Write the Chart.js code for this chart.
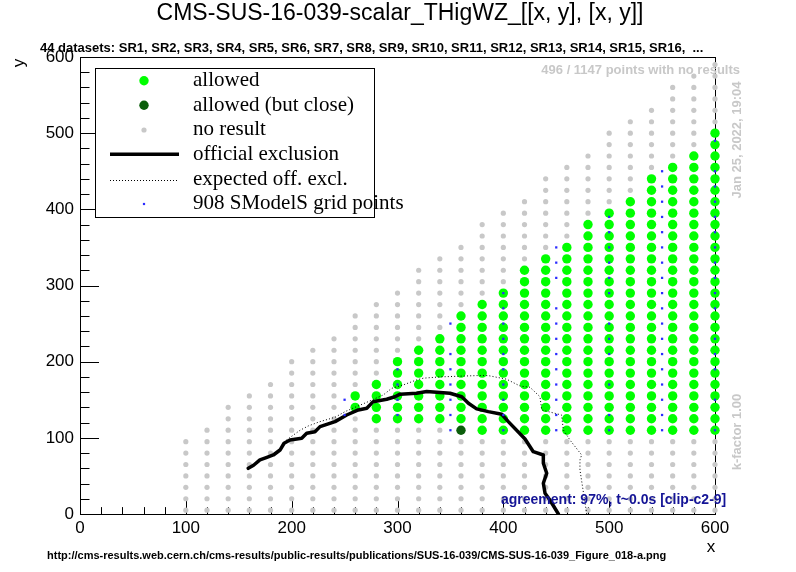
<!DOCTYPE html>
<html>
<head>
<meta charset="utf-8">
<script src="https://cdn.jsdelivr.net/npm/chart.js@4.4.1/dist/chart.umd.min.js"></script>
<style>
  html, body { margin: 0; padding: 0; background: #fff; }
  canvas { display: block; }
</style>
</head>
<body>
<canvas id="validationChart" width="796" height="572"></canvas>
<script>
// grid of scanned points (columns in x, rows in y)
const gridCols = [100, 120, 140, 160, 180, 200, 220, 240, 260, 280, 300, 320, 340,
                  360, 380, 400, 420, 440, 460, 480, 500, 520, 540, 560, 580, 600];
const gridRows = [5, 20, 35, 50, 65, 80, 95, 110, 125, 140, 155, 170, 185, 200, 215,
                  230, 245, 260, 275, 290, 305, 320, 335, 350, 365, 380, 395, 410,
                  425, 440, 455, 470, 485, 500, 515, 530, 545, 560, 575, 590];
// highest row present in each column
const colTop = [95, 110, 140, 155, 170, 200, 215, 230, 260, 275, 290, 320, 335,
                350, 380, 395, 410, 440, 455, 470, 500, 515, 530, 560, 575, 590];

// allowed (green) band per column
const allowedCols = [260, 280, 300, 320, 340, 360, 380, 400, 420, 440, 460, 480, 500, 520, 540, 560, 580, 600];
const allowedLow  = [140, 125, 125, 125, 125, 125, 110, 110, 110, 110, 110, 110, 110, 110, 110, 110, 110, 110];
const allowedHigh = [155, 170, 200, 215, 230, 260, 275, 290, 320, 335, 350, 380, 395, 410, 440, 455, 470, 500];

// allowed but close
const closeX = [360];
const closeY = [110];

// SModelS grid points (small blue squares)
const smodelsCols = [250, 300, 350, 400, 450, 500, 550, 600];
const smodelsY = [
  [130, 150],
  [130, 150, 170, 190],
  [110, 130, 150, 170, 190, 210, 250],
  [110, 130, 150, 170, 190, 210, 230, 250, 270, 290],
  [110, 130, 150, 170, 190, 210, 230, 250, 270, 310, 330, 350],
  [110, 130, 170, 210, 230, 250, 290, 310, 330, 350, 370, 390],
  [110, 130, 150, 170, 190, 210, 230, 250, 270, 290, 310, 330, 350, 370, 390, 410, 430, 450],
  [110, 150, 190, 210, 230, 270, 290, 310, 330, 350, 370, 390, 410, 430, 450, 490]
];

// official exclusion contour
const officialX = [159, 164, 170, 176, 182.7, 189, 192.8, 198.4, 209.5, 214.2, 222, 226.8, 241, 252, 263, 271,
                   277, 289.8, 297.6, 302.4, 318, 327.6, 349.6, 360.7, 367, 374.8, 385.8, 398.5, 404.7, 420.5,
                   428.3, 437.8, 437.8, 441, 437.8, 439.4, 444, 452];
const officialY = [60, 64, 71, 74, 77.5, 84, 92.9, 97.2, 99.5, 106, 108, 114.7, 121.3, 130, 136.6, 138.9,
                   147.5, 150.7, 154, 157.3, 158.6, 160.7, 158.6, 154, 145.4, 138, 134.4, 131, 121.3, 98.5,
                   81.8, 77.5, 66.6, 53.5, 40.3, 27.2, 18.4, 0];

// expected official exclusion contour
const expectedX = [195, 208, 215.7, 226.8, 241, 250.4, 261.4, 274, 286.6, 294.5, 305.5, 318, 324.4, 340,
                   374.8, 385.8, 403, 415.8, 425.2, 434.6, 436.3, 442.5, 455, 456.7, 463, 474, 472.4, 472.4, 478.8];
const expectedY = [97, 110, 115.6, 121.3, 127, 134.4, 141, 148.5, 156.3, 165, 169.5, 176, 178.3, 180,
                   181.7, 181.7, 177, 168, 166.4, 154, 136.6, 134.4, 130, 110.4, 97, 77.5, 71, 57.8, 0];

// build point lists
const allowedPts = [], noResultPts = [], closePts = [], smodelsPts = [];
gridCols.forEach((x, i) => {
  const a = allowedCols.indexOf(x);
  gridRows.forEach(y => {
    if (y > colTop[i]) return;
    const isClose = closeX.some((cx, k) => cx === x && closeY[k] === y);
    if (isClose) { closePts.push({ x, y }); return; }
    if (a >= 0 && y >= allowedLow[a] && y <= allowedHigh[a]) allowedPts.push({ x, y });
    else noResultPts.push({ x, y });
  });
});
smodelsCols.forEach((x, i) => smodelsY[i].forEach(y => smodelsPts.push({ x, y })));
const officialPts = officialX.map((x, i) => ({ x, y: officialY[i] }));
const expectedPts = expectedX.map((x, i) => ({ x, y: expectedY[i] }));

const GREEN = '#00ff00', DARK = '#0b5e0b', GRAY = '#c8c8c8', BLUE = '#2b2bff';
const R_BIG = 4.7, R_SMALL = 2.6;
const sans = '"Liberation Sans", Arial, Helvetica, sans-serif';
const serif = '"Liberation Serif", "Times New Roman", serif';

// ROOT-style frame, inward ticks, legend box and annotations
const rootDecor = {
  id: 'rootDecor',
  beforeDatasetsDraw(chart) {
    const { ctx, chartArea: a, scales: { x, y } } = chart;
    ctx.save();
    ctx.strokeStyle = '#000';
    ctx.lineWidth = 1;
    ctx.strokeRect(a.left + 0.5, a.top + 0.5, a.right - a.left, a.bottom - a.top);
    ctx.beginPath();
    for (let v = 0; v <= 600; v += 20) {
      const px = Math.round(x.getPixelForValue(v)) + 0.5;
      const len = v % 100 === 0 ? 13.7 : 6.9;
      ctx.moveTo(px, a.bottom);
      ctx.lineTo(px, a.bottom - len);
      const py = Math.round(y.getPixelForValue(v)) + 0.5;
      const lenY = v % 100 === 0 ? 19 : 9.5;
      ctx.moveTo(a.left, py);
      ctx.lineTo(a.left + lenY, py);
    }
    ctx.stroke();
    ctx.restore();
  },
  afterDraw(chart) {
    const { ctx } = chart;
    ctx.save();
    // title + header
    ctx.fillStyle = '#000';
    ctx.textAlign = 'center';
    ctx.textBaseline = 'alphabetic';
    ctx.font = '23px ' + sans;
    ctx.fillText('CMS-SUS-16-039-scalar_THigWZ_[[x, y], [x, y]]', 400, 19.5);
    ctx.textAlign = 'left';
    ctx.font = 'bold 13px ' + sans;
    ctx.fillText('44 datasets: SR1, SR2, SR3, SR4, SR5, SR6, SR7, SR8, SR9, SR10, SR11, SR12, SR13, SR14, SR15, SR16,  ...', 40, 52);

    // axis titles
    ctx.font = '17px ' + sans;
    ctx.textAlign = 'center';
    ctx.fillText('x', 711, 552);
    ctx.save();
    ctx.translate(24, 63);
    ctx.rotate(-Math.PI / 2);
    ctx.fillText('y', 0, 0);
    ctx.restore();

    // gray annotations
    ctx.fillStyle = '#c8c8c8';
    ctx.font = 'bold 13px ' + sans;
    ctx.textAlign = 'right';
    ctx.fillText('496 / 1147 points with no results', 740, 74);
    ctx.textAlign = 'center';
    [['Jan 25, 2022, 19:04', 140], ['k-factor 1.00', 432]].forEach(([t, cy]) => {
      ctx.save();
      ctx.translate(741, cy);
      ctx.rotate(-Math.PI / 2);
      ctx.fillText(t, 0, 0);
      ctx.restore();
    });

    ctx.fillStyle = '#141496';
    ctx.textAlign = 'left';
    ctx.font = 'bold 14px ' + sans;
    ctx.fillText('agreement: 97%, t~0.0s [clip-c2-9]', 501, 503.5);

    ctx.fillStyle = '#000';
    ctx.font = 'bold 11px ' + sans;
    ctx.fillText('http://cms-results.web.cern.ch/cms-results/public-results/publications/SUS-16-039/CMS-SUS-16-039_Figure_018-a.png', 47, 559);

    // legend
    ctx.fillStyle = '#fff';
    ctx.fillRect(96, 68, 278, 149);
    ctx.strokeStyle = '#000';
    ctx.lineWidth = 1;
    ctx.strokeRect(95.5, 68.5, 279, 149);
    const mx = 144, tx = 193;
    const rows = [80.7, 105.3, 130, 154.3, 180, 204];
    const labels = ['allowed', 'allowed (but close)', 'no result', 'official exclusion',
                    'expected off. excl.', '908 SModelS grid points'];
    ctx.fillStyle = GREEN;
    ctx.beginPath(); ctx.arc(mx, rows[0], R_BIG, 0, 2 * Math.PI); ctx.fill();
    ctx.fillStyle = DARK;
    ctx.beginPath(); ctx.arc(mx, rows[1], R_BIG, 0, 2 * Math.PI); ctx.fill();
    ctx.fillStyle = GRAY;
    ctx.beginPath(); ctx.arc(mx, rows[2], R_SMALL, 0, 2 * Math.PI); ctx.fill();
    ctx.strokeStyle = '#000';
    ctx.lineWidth = 3.5;
    ctx.beginPath(); ctx.moveTo(110, rows[3]); ctx.lineTo(179, rows[3]); ctx.stroke();
    ctx.lineWidth = 1;
    ctx.setLineDash([1, 2]);
    ctx.beginPath(); ctx.moveTo(110, rows[4] + 0.5); ctx.lineTo(177, rows[4] + 0.5); ctx.stroke();
    ctx.setLineDash([]);
    ctx.fillStyle = BLUE;
    ctx.fillRect(mx - 1.1, rows[5] - 1.1, 2.2, 2.2);
    ctx.fillStyle = '#000';
    ctx.font = '21px ' + serif;
    ctx.textAlign = 'left';
    labels.forEach((t, i) => ctx.fillText(t, tx, rows[i] + 5.3));
    ctx.restore();
  }
};

const ctx = document.getElementById('validationChart').getContext('2d');
const validationChart = new Chart(ctx, {
  type: 'scatter',
  data: {
    datasets: [
      { label: 'SModelS grid points', data: smodelsPts, pointStyle: 'rect', pointRadius: 1.6,
        pointBackgroundColor: BLUE, pointBorderWidth: 0, clip: false },
      { label: 'official exclusion', data: officialPts, showLine: true, pointRadius: 0,
        borderColor: '#000', borderWidth: 3.5, tension: 0, borderJoinStyle: 'round', borderCapStyle: 'round' },
      { label: 'expected off. excl.', data: expectedPts, showLine: true, pointRadius: 0,
        borderColor: '#000', borderWidth: 1, borderDash: [1, 2.2], tension: 0 },
      { label: 'allowed (but close)', data: closePts, pointRadius: R_BIG,
        pointBackgroundColor: DARK, pointBorderWidth: 0, clip: false },
      { label: 'allowed', data: allowedPts, pointRadius: R_BIG,
        pointBackgroundColor: GREEN, pointBorderWidth: 0, clip: false },
      { label: 'no result', data: noResultPts, pointRadius: R_SMALL,
        pointBackgroundColor: GRAY, pointBorderWidth: 0, clip: false }
    ]
  },
  options: {
    responsive: false,
    animation: false,
    devicePixelRatio: 1,
    events: [],
    layout: { padding: { top: 57, right: 81, left: 0, bottom: 0 } },
    plugins: {
      legend: { display: false },
      tooltip: { enabled: false },
      title: { display: false }
    },
    scales: {
      x: {
        type: 'linear', min: 0, max: 600,
        afterFit: scale => { scale.height = 58; },
        grid: { display: false, drawTicks: false },
        border: { display: false },
        ticks: { stepSize: 100, color: '#000', padding: 4, maxRotation: 0, autoSkip: false,
                 font: { family: 'Liberation Sans', size: 17 } }
      },
      y: {
        type: 'linear', min: 0, max: 600,
        afterFit: scale => { scale.width = 80; },
        grid: { display: false, drawTicks: false },
        border: { display: false },
        ticks: { stepSize: 100, color: '#000', padding: 6, autoSkip: false,
                 font: { family: 'Liberation Sans', size: 17 } }
      }
    }
  },
  plugins: [rootDecor]
});
</script>
</body>
</html>
